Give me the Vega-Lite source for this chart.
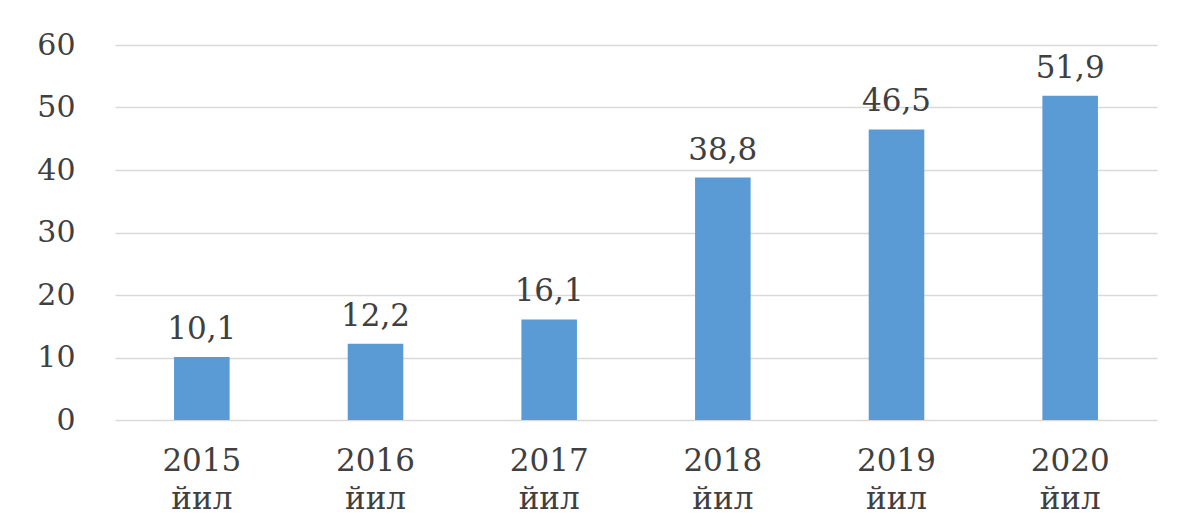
{
  "$schema": "https://vega.github.io/schema/vega-lite/v6.json",
  "width": 1042,
  "height": 375,
  "autosize": {"type": "none"},
  "padding": {"left": 115, "top": 45, "right": 22, "bottom": 107},
  "background": "white",
  "config": {
    "locale": {"number": {"decimal": ",", "thousands": " ", "grouping": [3], "currency": ["", ""]}},
    "view": {"stroke": null},
    "font": "DejaVu Serif"
  },
  "data": {
    "values": [
      {"year": "2015 йил", "value": 10.1},
      {"year": "2016 йил", "value": 12.2},
      {"year": "2017 йил", "value": 16.1},
      {"year": "2018 йил", "value": 38.8},
      {"year": "2019 йил", "value": 46.5},
      {"year": "2020 йил", "value": 51.9}
    ]
  },
  "encoding": {
    "x": {
      "field": "year", "type": "nominal", "sort": null,
      "scale": {"paddingInner": 0.68, "paddingOuter": 0.34},
      "axis": {
        "title": null, "labelAngle": 0, "domain": false, "ticks": false,
        "labelFont": "DejaVu Serif", "labelFontSize": 31, "labelColor": "#404040",
        "labelPadding": 26, "labelLineHeight": 38,
        "labelExpr": "split(datum.label, ' ')"
      }
    },
    "y": {
      "field": "value", "type": "quantitative",
      "scale": {"domain": [0, 60]},
      "axis": {
        "title": null, "values": [0, 10, 20, 30, 40, 50, 60], "domain": false, "ticks": false,
        "labelFont": "DejaVu Serif", "labelFontSize": 30, "labelColor": "#404040",
        "labelPadding": 40, "gridColor": "#d9d9d9", "gridWidth": 1.5
      }
    }
  },
  "layer": [
    {"mark": {"type": "bar", "color": "#5b9bd5"}},
    {
      "mark": {"type": "text", "baseline": "bottom", "dy": -11, "fontSize": 31, "color": "#404040", "font": "DejaVu Serif"},
      "encoding": {"text": {"field": "value", "type": "quantitative", "format": ".1f"}}
    }
  ]
}
